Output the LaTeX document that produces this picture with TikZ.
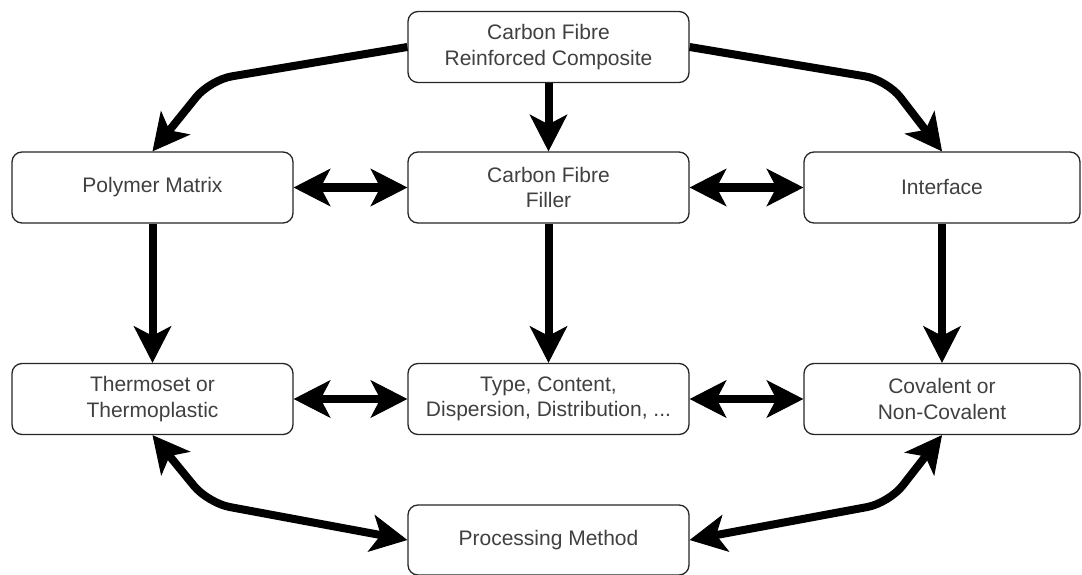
\documentclass[tikz,border=0pt]{standalone}
\usepackage{fontspec}
\setmainfont{Liberation Sans}
\usetikzlibrary{arrows.meta}
\begin{document}
\begin{tikzpicture}[x=1pt,y=-1pt,
  box/.style={draw=black!85, line width=1.3pt, rounded corners=10pt, fill=white,
    minimum height=71pt, text=black!75, font=\fontsize{21}{25.5}\selectfont,
    align=center, inner sep=0pt},
  wbox/.style={box, minimum width=281pt},
  rbox/.style={box, minimum width=276pt},
  tip/.tip={Stealth[length=37pt,width=38pt,inset=10pt,line width=1pt]},
  link/.style={line width=8pt, -tip},
  blink/.style={line width=8pt, tip-tip},
  curvy/.style={rounded corners=22pt},
]
\useasboundingbox (0,0) rectangle (1082,575);

\node[wbox] (top) at (548.5,47) {Carbon Fibre\\Reinforced Composite};
\node[wbox] (pm)  at (152.5,187.5) {Polymer Matrix};
\node[wbox] (cf)  at (548.5,187.5) {Carbon Fibre\\Filler};
\node[rbox] (if)  at (942,187.5) {Interface};
\node[wbox] (ts)  at (152.5,399) {Thermoset or\\Thermoplastic};
\node[wbox] (tc)  at (548.5,399) {Type, Content,\\Dispersion, Distribution, ...};
\node[rbox] (cv)  at (942,399) {Covalent or\\Non-Covalent};
\node[wbox, minimum height=70pt] (pr) at (548.5,540) {Processing Method};

\coordinate (tl) at (210,80);
\coordinate (tr) at (887,80);
\coordinate (bl) at (208,503);
\coordinate (br) at (889,503);

\draw[link, curvy] (top.west) -- (tl) -- (pm.north);
\draw[link, curvy] (top.east) -- (tr) -- (if.north);
\draw[link] (top.south) -- (cf.north);

\draw[blink] (pm.east) -- (cf.west);
\draw[blink] (cf.east) -- (if.west);

\draw[link] (pm.south) -- (ts.north);
\draw[link] (cf.south) -- (tc.north);
\draw[link] (if.south) -- (cv.north);

\draw[blink] (ts.east) -- (tc.west);
\draw[blink] (tc.east) -- (cv.west);

\draw[blink, curvy] (ts.south) -- (bl) -- (pr.west);
\draw[blink, curvy] (cv.south) -- (br) -- (pr.east);
\end{tikzpicture}
\end{document}
